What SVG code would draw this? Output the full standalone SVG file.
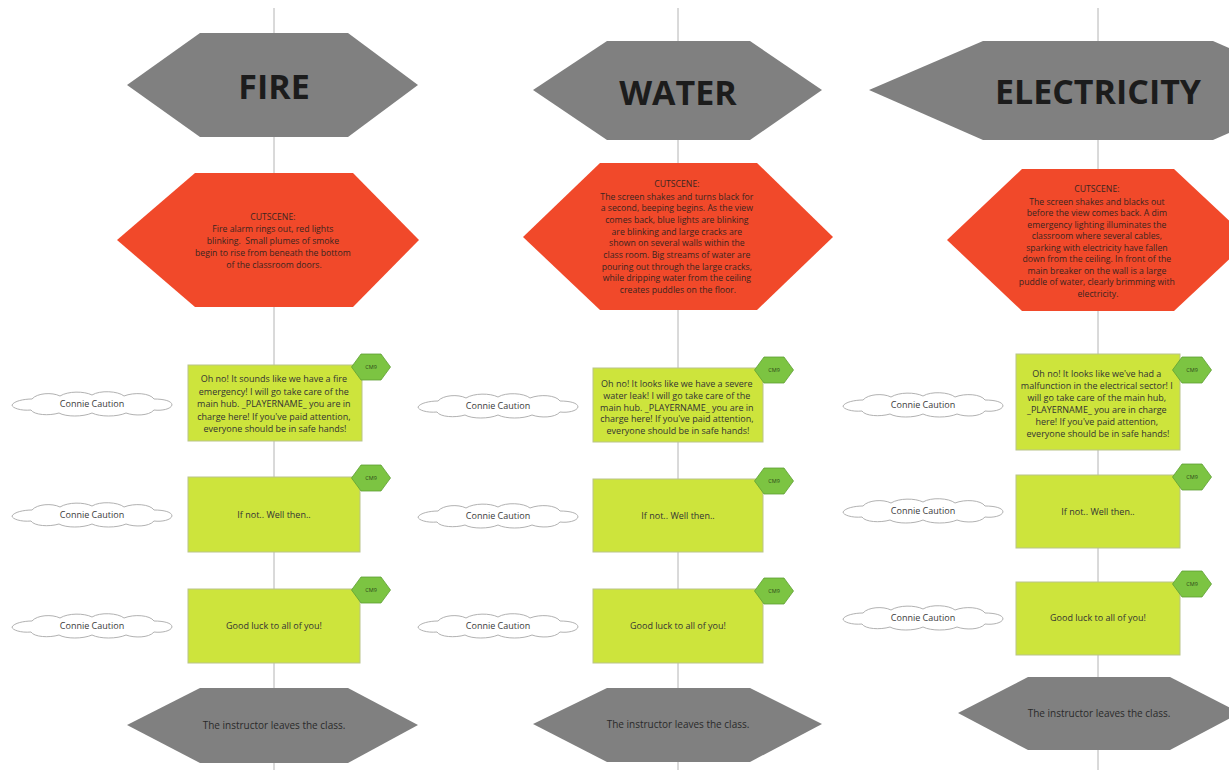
<svg xmlns="http://www.w3.org/2000/svg" xmlns:xlink="http://www.w3.org/1999/xlink" width="1229" height="770" viewBox="0 0 1229 770">
  <style>
    .title { font-family: "Open Sans", "Liberation Sans", sans-serif; font-weight: 700; font-size: 34px; fill: #1c1c1c; text-anchor: middle; }
    .hdr { fill: #808080; }
    .scene { fill: #f1492a; }
    .scene-t { font-family: "Open Sans", "Liberation Sans", sans-serif; font-size: 8.7px; fill: #3a2520; text-anchor: middle; }
    .say { fill: #cde43c; stroke: #b9c48a; stroke-width: 1; }
    .say-t { font-family: "Open Sans", "Liberation Sans", sans-serif; font-size: 9px; fill: #333333; text-anchor: middle; }
    .tag { fill: #7cc442; stroke: #5e9e34; stroke-width: 0.8; }
    .tag-t { font-family: "Open Sans", "Liberation Sans", sans-serif; font-size: 5.5px; fill: #2e4a1a; text-anchor: middle; }
    .cloud { fill: #ffffff; stroke: #a8a8a8; stroke-width: 0.9; }
    .cloud-t { font-family: "Open Sans", "Liberation Sans", sans-serif; font-size: 9px; fill: #3a3a3a; text-anchor: middle; }
    .end-t { font-family: "Open Sans", "Liberation Sans", sans-serif; font-size: 10px; fill: #2a2a2a; text-anchor: middle; }
    .flow { stroke: #b4b4b4; stroke-width: 1; fill: none; }
  </style>
  <defs>
    <polygon id="cm9" points="-19.5,0 -10,-13 10,-13 19.5,0 10,13 -10,13"/>
    <path id="cloud" d="M -80,1 C -78,-3 -68,-5 -60,-5 C -55,-11 -40,-12 -32,-8 C -24,-13 -8,-13 0,-9 C 8,-14 26,-13 32,-8 C 42,-12 58,-11 62,-5 C 72,-5 80,-3 80,1 C 79,5 70,7 62,6 C 57,12 42,12 34,9 C 25,13 8,13 0,9 C -9,13 -26,13 -33,9 C -43,12 -58,11 -61,6 C -71,7 -80,4 -80,1 Z"/>
  </defs>

  <rect width="1229" height="770" fill="#ffffff"/>

  <!-- connectors: one vertical flow line per column -->
  <g id="connectors">
    <line class="flow" x1="274" y1="8" x2="274" y2="770"/>
    <line class="flow" x1="678" y1="8" x2="678" y2="770"/>
    <line class="flow" x1="1098" y1="8" x2="1098" y2="770"/>
  </g>

  <!-- ===== FIRE column ===== -->
  <g id="fire-title">
    <polygon class="hdr" points="127,85 200,33 348,33 418,85 348,137 200,137"/>
    <text class="title" x="274" y="99">FIRE</text>
  </g>
  <g id="fire-cutscene">
    <polygon class="scene" points="117,240 195,173 353,173 419,240 353,307 195,307"/>
    <text class="scene-t">
      <tspan x="274" y="220">CUTSCENE:</tspan>
      <tspan x="274" y="232">Fire alarm rings out, red lights</tspan>
      <tspan x="274" y="244">blinking. &#160;Small plumes of smoke</tspan>
      <tspan x="274" y="256">begin to rise from beneath the bottom</tspan>
      <tspan x="274" y="268">of the classroom doors.</tspan>
    </text>
  </g>
  <g id="fire-line1">
    <rect class="say" x="188" y="365" width="174" height="76"/>
    <text class="say-t">
      <tspan x="275" y="382">Oh no! It sounds like we have a fire</tspan>
      <tspan x="275" y="394.5">emergency! I will go take care of the</tspan>
      <tspan x="275" y="407">main hub. _PLAYERNAME_ you are in</tspan>
      <tspan x="275" y="419.5">charge here! If you've paid attention,</tspan>
      <tspan x="275" y="432">everyone should be in safe hands!</tspan>
    </text>
    <use href="#cm9" class="tag" transform="translate(371,367)"/>
    <text class="tag-t" x="371" y="369">CM9</text>
  </g>
  <g id="fire-speaker1">
    <use href="#cloud" class="cloud" transform="translate(92,404)"/>
    <text class="cloud-t" x="92" y="407">Connie Caution</text>
  </g>
  <g id="fire-line2">
    <rect class="say" x="188" y="477" width="172" height="75"/>
    <text class="say-t" x="274" y="518">If not.. Well then..</text>
    <use href="#cm9" class="tag" transform="translate(371,478)"/>
    <text class="tag-t" x="371" y="480">CM9</text>
  </g>
  <g id="fire-speaker2">
    <use href="#cloud" class="cloud" transform="translate(92,515)"/>
    <text class="cloud-t" x="92" y="518">Connie Caution</text>
  </g>
  <g id="fire-line3">
    <rect class="say" x="188" y="589" width="172" height="74"/>
    <text class="say-t" x="274" y="629">Good luck to all of you!</text>
    <use href="#cm9" class="tag" transform="translate(371,590)"/>
    <text class="tag-t" x="371" y="592">CM9</text>
  </g>
  <g id="fire-speaker3">
    <use href="#cloud" class="cloud" transform="translate(92,626)"/>
    <text class="cloud-t" x="92" y="629">Connie Caution</text>
  </g>
  <g id="fire-end">
    <polygon class="hdr" points="127,725 200,688 348,688 418,725 348,763 200,763"/>
    <text class="end-t" x="274" y="729">The instructor leaves the class.</text>
  </g>

  <!-- ===== WATER column ===== -->
  <g id="water-title">
    <polygon class="hdr" points="533,90 607,41 750,41 822,90 750,140 607,140"/>
    <text class="title" x="678" y="105">WATER</text>
  </g>
  <g id="water-cutscene">
    <polygon class="scene" points="523,237 600,163 757,163 833,237 757,310 600,310"/>
    <text class="scene-t">
      <tspan x="678" y="187">CUTSCENE:</tspan>
      <tspan x="678" y="199.5">The screen shakes and turns black for</tspan>
      <tspan x="678" y="211">a second, beeping begins. As the view</tspan>
      <tspan x="678" y="223">comes back, blue lights are blinking</tspan>
      <tspan x="678" y="234.5">are blinking and large cracks are</tspan>
      <tspan x="678" y="246">shown on several walls within the</tspan>
      <tspan x="678" y="258">class room. Big streams of water are</tspan>
      <tspan x="678" y="269.5">pouring out through the large cracks,</tspan>
      <tspan x="678" y="281">while dripping water from the ceiling</tspan>
      <tspan x="678" y="293">creates puddles on the floor.</tspan>
    </text>
  </g>
  <g id="water-line1">
    <rect class="say" x="593" y="368" width="170" height="74"/>
    <text class="say-t">
      <tspan x="678" y="386.5">Oh no! It looks like we have a severe</tspan>
      <tspan x="678" y="398.5">water leak! I will go take care of the</tspan>
      <tspan x="678" y="410.5">main hub. _PLAYERNAME_ you are in</tspan>
      <tspan x="678" y="422">charge here! If you've paid attention,</tspan>
      <tspan x="678" y="433.5">everyone should be in safe hands!</tspan>
    </text>
    <use href="#cm9" class="tag" transform="translate(774,370)"/>
    <text class="tag-t" x="774" y="372">CM9</text>
  </g>
  <g id="water-speaker1">
    <use href="#cloud" class="cloud" transform="translate(498,406)"/>
    <text class="cloud-t" x="498" y="409">Connie Caution</text>
  </g>
  <g id="water-line2">
    <rect class="say" x="593" y="479" width="170" height="73"/>
    <text class="say-t" x="678" y="519">If not.. Well then..</text>
    <use href="#cm9" class="tag" transform="translate(774,481)"/>
    <text class="tag-t" x="774" y="483">CM9</text>
  </g>
  <g id="water-speaker2">
    <use href="#cloud" class="cloud" transform="translate(498,516)"/>
    <text class="cloud-t" x="498" y="519">Connie Caution</text>
  </g>
  <g id="water-line3">
    <rect class="say" x="593" y="589" width="170" height="74"/>
    <text class="say-t" x="678" y="629">Good luck to all of you!</text>
    <use href="#cm9" class="tag" transform="translate(774,591)"/>
    <text class="tag-t" x="774" y="593">CM9</text>
  </g>
  <g id="water-speaker3">
    <use href="#cloud" class="cloud" transform="translate(498,626)"/>
    <text class="cloud-t" x="498" y="629">Connie Caution</text>
  </g>
  <g id="water-end">
    <polygon class="hdr" points="533,724 607,688 750,688 822,724 750,762 607,762"/>
    <text class="end-t" x="678" y="728">The instructor leaves the class.</text>
  </g>

  <!-- ===== ELECTRICITY column ===== -->
  <g id="electricity-title">
    <polygon class="hdr" points="869,90 983,41 1213,41 1327,90 1213,140 983,140"/>
    <text class="title" x="1098" y="104">ELECTRICITY</text>
  </g>
  <g id="electricity-cutscene">
    <polygon class="scene" points="947,240 1022,169 1174,169 1250,240 1174,311 1022,311"/>
    <text class="scene-t">
      <tspan x="1098" y="192">CUTSCENE:</tspan>
      <tspan x="1098" y="204.5">The screen shakes and blacks out</tspan>
      <tspan x="1098" y="216">before the view comes back. A dim</tspan>
      <tspan x="1098" y="227.5">emergency lighting illuminates the</tspan>
      <tspan x="1098" y="239">classroom where several cables,</tspan>
      <tspan x="1098" y="250.5">sparking with electricity have fallen</tspan>
      <tspan x="1098" y="262">down from the ceiling. In front of the</tspan>
      <tspan x="1098" y="273.5">main breaker on the wall is a large</tspan>
      <tspan x="1098" y="285">puddle of water, clearly brimming with</tspan>
      <tspan x="1098" y="296.5">electricity.</tspan>
    </text>
  </g>
  <g id="electricity-line1">
    <rect class="say" x="1016" y="354" width="164" height="96"/>
    <text class="say-t">
      <tspan x="1098" y="376.5">Oh no! It looks like we've had a</tspan>
      <tspan x="1098" y="388.5">malfunction in the electrical sector! I</tspan>
      <tspan x="1098" y="400.5">will go take care of the main hub,</tspan>
      <tspan x="1098" y="412.5">_PLAYERNAME_ you are in charge</tspan>
      <tspan x="1098" y="424.5">here! If you've paid attention,</tspan>
      <tspan x="1098" y="436.5">everyone should be in safe hands!</tspan>
    </text>
    <use href="#cm9" class="tag" transform="translate(1192,370)"/>
    <text class="tag-t" x="1192" y="372">CM9</text>
  </g>
  <g id="electricity-speaker1">
    <use href="#cloud" class="cloud" transform="translate(923,405)"/>
    <text class="cloud-t" x="923" y="408">Connie Caution</text>
  </g>
  <g id="electricity-line2">
    <rect class="say" x="1016" y="475" width="164" height="73"/>
    <text class="say-t" x="1098" y="515">If not.. Well then..</text>
    <use href="#cm9" class="tag" transform="translate(1192,477)"/>
    <text class="tag-t" x="1192" y="479">CM9</text>
  </g>
  <g id="electricity-speaker2">
    <use href="#cloud" class="cloud" transform="translate(923,511)"/>
    <text class="cloud-t" x="923" y="514">Connie Caution</text>
  </g>
  <g id="electricity-line3">
    <rect class="say" x="1016" y="582" width="164" height="73"/>
    <text class="say-t" x="1098" y="621">Good luck to all of you!</text>
    <use href="#cm9" class="tag" transform="translate(1192,584)"/>
    <text class="tag-t" x="1192" y="586">CM9</text>
  </g>
  <g id="electricity-speaker3">
    <use href="#cloud" class="cloud" transform="translate(923,618)"/>
    <text class="cloud-t" x="923" y="621">Connie Caution</text>
  </g>
  <g id="electricity-end">
    <polygon class="hdr" points="958,713 1028,677 1170,677 1240,713 1170,750 1028,750"/>
    <text class="end-t" x="1099" y="717">The instructor leaves the class.</text>
  </g>
</svg>
